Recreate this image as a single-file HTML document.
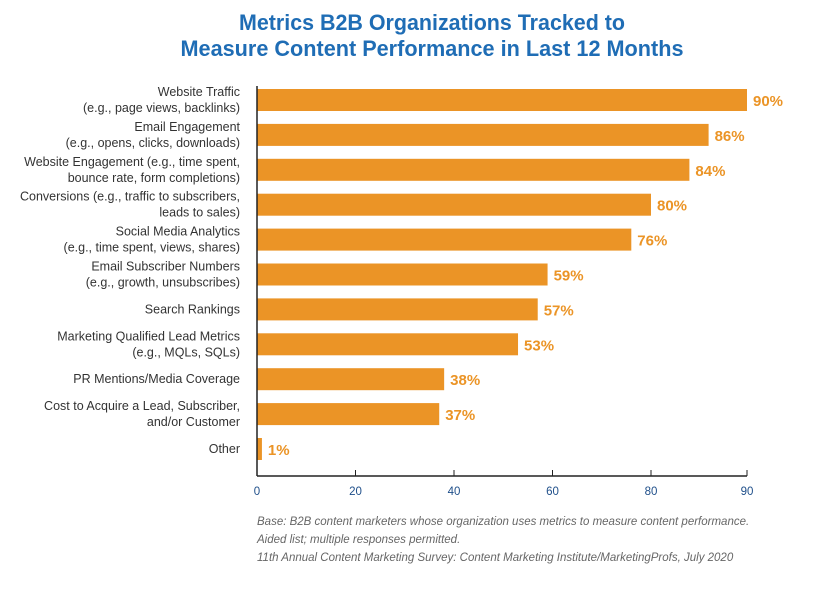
<!DOCTYPE html>
<html><head><meta charset="utf-8"><style>
body{margin:0;background:#fff;width:823px;height:585px;overflow:hidden;font-family:"Liberation Sans",sans-serif}
</style></head><body>
<svg id="chart" width="823" height="585" xmlns="http://www.w3.org/2000/svg">
<text x="432" y="30" text-anchor="middle" font-size="22" font-weight="bold" fill="#1f6db5" textLength="386" lengthAdjust="spacingAndGlyphs">Metrics B2B Organizations Tracked to</text>
<text x="432" y="56" text-anchor="middle" font-size="22" font-weight="bold" fill="#1f6db5" textLength="503" lengthAdjust="spacingAndGlyphs">Measure Content Performance in Last 12 Months</text>
<g id="bars"></g>
<line x1="257" y1="86" x2="257" y2="476" stroke="#222" stroke-width="1.5"/>
<line x1="257" y1="476" x2="747" y2="476" stroke="#222" stroke-width="1.5"/>
<g id="ticks"></g>
<g font-size="11.5" font-style="italic" fill="#666">
<text x="257" y="525">Base: B2B content marketers whose organization uses metrics to measure content performance.</text>
<text x="257" y="543">Aided list; multiple responses permitted.</text>
<text x="257" y="561">11th Annual Content Marketing Survey: Content Marketing Institute/MarketingProfs, July 2020</text>
</g>
</svg>
<script>
const categories=[["Website Traffic","(e.g., page views, backlinks)"],["Email Engagement","(e.g., opens, clicks, downloads)"],["Website Engagement (e.g., time spent,","bounce rate, form completions)"],["Conversions (e.g., traffic to subscribers,","leads to sales)"],["Social Media Analytics","(e.g., time spent, views, shares)"],["Email Subscriber Numbers","(e.g., growth, unsubscribes)"],["Search Rankings"],["Marketing Qualified Lead Metrics","(e.g., MQLs, SQLs)"],["PR Mentions/Media Coverage"],["Cost to Acquire a Lead, Subscriber,","and/or Customer"],["Other"]];
const values=[90,86,84,80,76,59,57,53,38,37,1];
const tickValues=[0,20,40,60,80,90];
const NS="http://www.w3.org/2000/svg";
function x(v){return v<=80?257+v*(394/80):651+(v-80)*(96/10);}
function y(i){return 100+i*34.9;}
function mk(t,a,p){const e=document.createElementNS(NS,t);for(const k in a)e.setAttribute(k,a[k]);p.appendChild(e);return e;}
const bars=document.getElementById('bars');
values.forEach((v,i)=>{
  const r=mk('rect',{x:257,y:y(i)-11,width:Math.max(x(v)-257,2.5),height:22,fill:'#eb9426'},bars);
  
  
  const t=mk('text',{x:x(v)+6,y:y(i)+6,'font-size':15,'font-weight':'bold',fill:'#eb9426'},bars);
  t.textContent=v+'%';
  
  
  const c=categories[i];
  const l=mk('text',{x:240,'text-anchor':'end','font-size':12.5,fill:'#333'},bars);
  
  
  c.forEach((s,j)=>{const ts=mk('tspan',{x:240,y:y(i)+4+(c.length===2?(j===0?-8:8):0)},l);ts.textContent=s;});
});
const ticks=document.getElementById('ticks');
tickValues.forEach(v=>{
  mk('line',{x1:x(v),y1:470,x2:x(v),y2:476,stroke:'#222','stroke-width':1},ticks);
  const t=mk('text',{x:x(v),y:495,'text-anchor':'middle','font-size':11.5,fill:'#1f4f8a'},ticks);
  t.textContent=v;
  
  
});
</script>
</body></html>
